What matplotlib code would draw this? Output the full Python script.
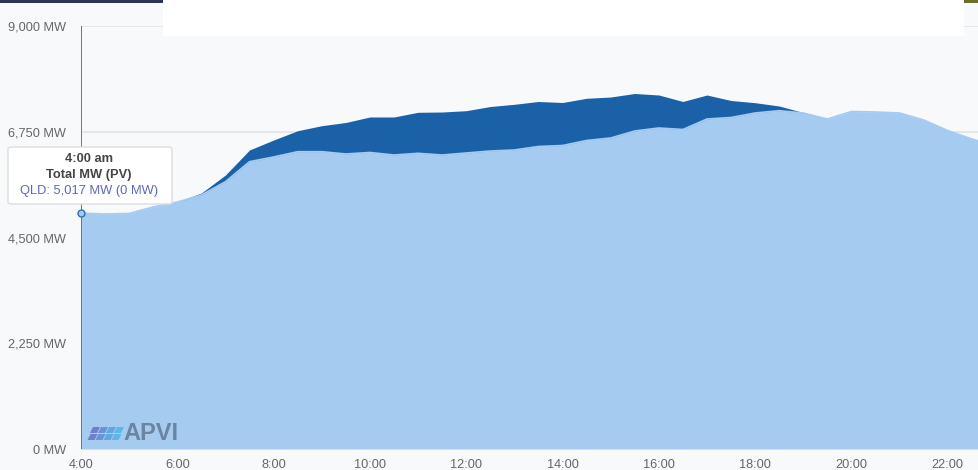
import matplotlib
matplotlib.use('Agg')
import matplotlib.pyplot as plt
import numpy as np
from matplotlib.patches import Rectangle, FancyBboxPatch, Polygon

# half-hourly readings, 4:00 to 23:00
hours = [4.0, 4.5, 5.0, 5.5, 6.0, 6.5, 7.0, 7.5, 8.0, 8.5, 9.0, 9.5, 10.0, 10.5,
         11.0, 11.5, 12.0, 12.5, 13.0, 13.5, 14.0, 14.5, 15.0, 15.5, 16.0, 16.5,
         17.0, 17.5, 18.0, 18.5, 19.0, 19.5, 20.0, 20.5, 21.0, 21.5, 22.0, 22.5, 23.0]
demand_mw = [5017, 5000, 5011, 5150, 5255, 5404, 5687, 6113, 6213, 6326, 6326, 6277,
             6309, 6255, 6291, 6255, 6298, 6340, 6362, 6436, 6457, 6564, 6617, 6766,
             6830, 6798, 7021, 7053, 7149, 7198, 7149, 7021, 7181, 7170, 7149, 7000,
             6777, 6596, 6450]
pv_mw = [0, 0, 0, 0, 0, 43, 143, 249, 361, 446, 553, 670, 755, 809, 873, 915, 900,
         947, 972, 958, 915, 898, 872, 798, 702, 596, 511, 362, 219, 100, 10, 0, 0,
         0, 0, 0, 0, 0, 0]
x_ticks = [4, 6, 8, 10, 12, 14, 16, 18, 20, 22]
y_ticks = [0, 2250, 4500, 6750, 9000]

W, H = 979, 470
bg = '#f8f9fb'
light = '#a6cbf0'
dark = '#1b61a8'

plt.rcParams['font.family'] = ['Liberation Sans', 'DejaVu Sans']

fig = plt.figure(figsize=(W / 100, H / 100), dpi=100, facecolor=bg)
ax = fig.add_axes([81 / W, 21 / H, 898 / W, 423 / H], facecolor=bg)

t = np.array(hours)
base = np.array(demand_mw)
total = base + np.array(pv_mw)

ax.fill_between(t, 0, base, color=light, lw=0, zorder=2)
ax.fill_between(t, base, total, color=dark, lw=0, zorder=2)
ax.plot(t, base, color=light, lw=1.2, zorder=3)

ax.set_xlim(4, 4 + 898 / 48.15)
ax.set_ylim(0, 9000)

for yv in y_ticks[1:]:
    ax.axhline(yv, color='#e3e4e6', lw=1.3, zorder=1)

ax.set_xticks(x_ticks)
ax.set_xticklabels([f'{h}:00' for h in x_ticks])
ax.set_yticks(y_ticks)
ax.set_yticklabels([f'{v:,} MW' for v in y_ticks])
ax.tick_params(axis='x', length=0, pad=7, labelsize=9.2, labelcolor='#666666')
ax.tick_params(axis='y', length=0, pad=11, labelsize=9.2, labelcolor='#666666')
for s in ax.spines.values():
    s.set_visible(False)

# crosshair and hover point
ax.axvline(4, color='#3f9a3f', lw=1.4, zorder=4)
ax.plot([4], [demand_mw[0]], marker='o', ms=5, mfc=light, mec='#2f6fb0', mew=1,
        zorder=6, clip_on=False)

# tooltip
tip = FancyBboxPatch((8 / W, 1 - 204 / H), 164 / W, 57 / H,
                     boxstyle='round,pad=0,rounding_size=0.004',
                     transform=fig.transFigure, fc='white', ec='#dddddd', lw=1, zorder=7)
fig.add_artist(tip)
fig.text(89 / W, 1 - 159 / H, '4:00 am', ha='center', va='center', fontsize=9.3,
         fontweight='bold', color='#444444', zorder=8)
fig.text(89 / W, 1 - 175 / H, 'Total MW (PV)', ha='center', va='center', fontsize=9.3,
         fontweight='bold', color='#444444', zorder=8)
fig.text(89 / W, 1 - 191 / H, 'QLD: 5,017 MW (0 MW)', ha='center', va='center', fontsize=9.3,
         color='#5b6bb3', zorder=8)

# APVI logo
logo_cols = ['#6f7fc8', '#6a93d6', '#62a6df', '#5cb6e6']
for i, c in enumerate(logo_cols):
    for j in range(2):
        x0 = 90 + i * 8 - j * 2.5
        y0 = 427 + j * 7
        pts = [(x0 + 3, y0), (x0 + 10, y0), (x0 + 7, y0 + 6), (x0, y0 + 6)]
        fig.add_artist(Polygon([(px / W, 1 - py / H) for px, py in pts], closed=True,
                               transform=fig.transFigure, fc=c, ec='none', zorder=5))
fig.text(123 / W, 1 - 434 / H, 'APVI', ha='left', va='center', fontsize=17,
         fontweight='bold', color='#6c83a2', zorder=5)

# page chrome at the top edge
fig.add_artist(Rectangle((0, 1 - 3 / H), 163 / W, 3 / H, transform=fig.transFigure,
                         fc='#2c3550', ec='none', zorder=9))
fig.add_artist(Rectangle((964 / W, 1 - 3 / H), 15 / W, 3 / H, transform=fig.transFigure,
                         fc='#6e6e2c', ec='none', zorder=9))
fig.add_artist(Rectangle((163 / W, 1 - 36 / H), 801 / W, 36 / H, transform=fig.transFigure,
                         fc='white', ec='none', zorder=9))

fig.savefig('out.png', dpi=100, facecolor=bg)
